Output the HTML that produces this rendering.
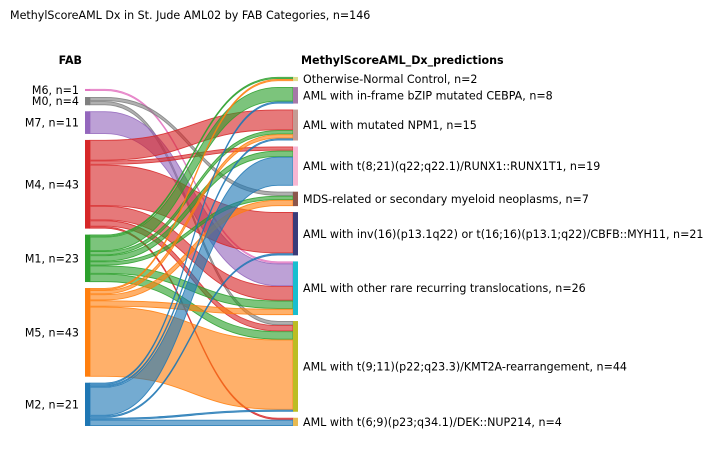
<!DOCTYPE html>
<html><head><meta charset="utf-8">
<style>
body{margin:0;background:#fff;width:713px;height:454px;overflow:hidden;font-family:"DejaVu Sans","Liberation Sans",sans-serif;}
svg text{font-family:"DejaVu Sans","Liberation Sans",sans-serif;font-size:11.1px;fill:#000;}
</style></head>
<body>
<svg id="chart" width="713" height="454" viewBox="0 0 713 454">
<text x="10" y="19">MethylScoreAML Dx in St. Jude AML02 by FAB Categories, n=146</text>
<text x="82" y="64" text-anchor="end" style="font-weight:bold">FAB</text>
<text x="301" y="64" style="font-weight:bold">MethylScoreAML_Dx_predictions</text>
<g id="links"></g><g id="nodes"></g>
</svg>
<script>
const sources = ["M6","M0","M7","M4","M1","M5","M2"];
const sourceColors = ["#e377c2","#7f7f7f","#9467bd","#d62728","#2ca02c","#ff7f0e","#1f77b4"];
const targets = ["Otherwise-Normal Control","AML with in-frame bZIP mutated CEBPA","AML with mutated NPM1","AML with t(8;21)(q22;q22.1)/RUNX1::RUNX1T1","MDS-related or secondary myeloid neoplasms","AML with inv(16)(p13.1q22) or t(16;16)(p13.1;q22)/CBFB::MYH11","AML with other rare recurring translocations","AML with t(9;11)(p22;q23.3)/KMT2A-rearrangement","AML with t(6;9)(p23;q34.1)/DEK::NUP214"];
const targetColors = ["#dbdb8d","#a678a8","#c49c94","#f7b6d2","#8c564b","#393b79","#17becf","#bcbd22","#e7ba52"];
// rows: sources, cols: targets
const flowM6 = [0,0,0,0,0,0,1,0,0];
const flowM0 = [0,0,0,0,2,0,0,2,0];
const flowM7 = [0,0,0,0,0,0,11,0,0];
const flowM4 = [0,0,10,2,0,20,7,3,1];
const flowM1 = [1,7,2,3,2,0,4,4,0];
const flowM5 = [1,0,2,0,3,0,3,34,0];
const flowM2 = [0,1,1,14,0,1,0,1,3];
const flows = [flowM6,flowM0,flowM7,flowM4,flowM1,flowM5,flowM2];

const NS="http://www.w3.org/2000/svg";
const bottom=426, gap=6, k=2.062;
const xL0=85,xL1=90,xR0=293,xR1=298;
const srcTot=flows.map(r=>r.reduce((a,b)=>a+b,0));
const tgtTot=targets.map((_,j)=>flows.reduce((a,r)=>a+r[j],0));
function layout(tots){const h=tots.reduce((a,b)=>a+b,0)*k+gap*(tots.length-1);let y=bottom-h;return tots.map(t=>{const y0=y;y+=t*k+gap;return y0;});}
const sy=layout(srcTot), ty=layout(tgtTot);
const linksG=document.getElementById('links'), nodesG=document.getElementById('nodes');
const sOff=sy.slice(), tOff=ty.slice();
const ends={};
for(let j=0;j<targets.length;j++)for(let i=0;i<sources.length;i++){const v=flows[i][j];if(!v)continue;ends[i+'_'+j]={t0:tOff[j],t1:tOff[j]+v*k};tOff[j]+=v*k;}
for(let i=0;i<sources.length;i++)for(let j=0;j<targets.length;j++){
  const v=flows[i][j];if(!v)continue;
  const a0=sOff[i],a1=sOff[i]+v*k;sOff[i]=a1;
  const e=ends[i+'_'+j];const p=0.4;
  const b0=e.t0,b1=e.t1;
  const xa=xL1+15,xb=xR0-15,xm=(xa+xb)/2;
  const d=`M${xL1},${a0+p}L${xa},${a0+p}C${xm},${a0+p} ${xm},${b0+p} ${xb},${b0+p}L${xR0},${b0+p}L${xR0},${b1-p}L${xb},${b1-p}C${xm},${b1-p} ${xm},${a1-p} ${xa},${a1-p}L${xL1},${a1-p}Z`;
  const path=document.createElementNS(NS,'path');
  path.setAttribute('d',d);path.setAttribute('fill',sourceColors[i]);path.setAttribute('fill-opacity','0.62');
  path.setAttribute('stroke',sourceColors[i]);path.setAttribute('stroke-width','0.9');path.setAttribute('stroke-opacity','0.85');
  
  
  linksG.appendChild(path);
}
sources.forEach((s,i)=>{
  const r=document.createElementNS(NS,'rect');
  r.setAttribute('x',xL0);r.setAttribute('y',sy[i]);r.setAttribute('width',xL1-xL0);r.setAttribute('height',srcTot[i]*k);r.setAttribute('fill',sourceColors[i]);
  
  
  nodesG.appendChild(r);
  const t=document.createElementNS(NS,'text');
  t.setAttribute('x',79);t.setAttribute('y',sy[i]+srcTot[i]*k/2+4);t.setAttribute('text-anchor','end');
  t.textContent=s+', n='+srcTot[i];
  
  
  nodesG.appendChild(t);
});
targets.forEach((s,j)=>{
  const r=document.createElementNS(NS,'rect');
  r.setAttribute('x',xR0);r.setAttribute('y',ty[j]);r.setAttribute('width',xR1-xR0);r.setAttribute('height',tgtTot[j]*k);r.setAttribute('fill',targetColors[j]);
  
  
  nodesG.appendChild(r);
  const t=document.createElementNS(NS,'text');
  t.setAttribute('x',303);t.setAttribute('y',ty[j]+tgtTot[j]*k/2+4);
  t.textContent=s+', n='+tgtTot[j];
  
  
  nodesG.appendChild(t);
});
</script>
</body></html>
